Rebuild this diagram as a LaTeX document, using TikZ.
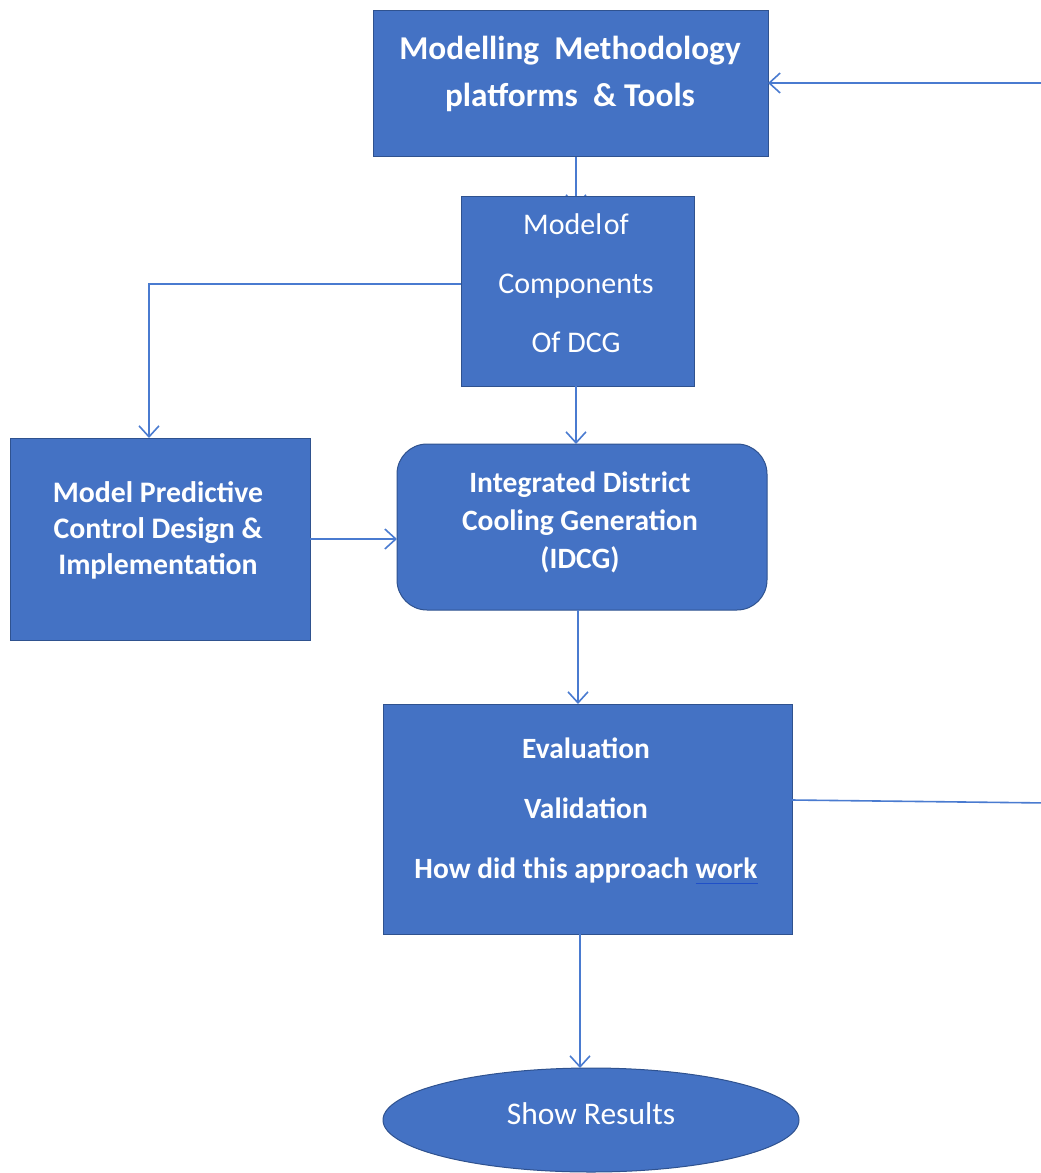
\documentclass[tikz,border=0pt]{standalone}
\usepackage{fontspec}
\setmainfont{Carlito}
\usetikzlibrary{arrows.meta,shapes.geometric,backgrounds}
\definecolor{boxfill}{HTML}{4472C4}
\definecolor{boxedge}{HTML}{2F528F}
\definecolor{linkblue}{HTML}{4A7BD0}
\definecolor{spellblue}{HTML}{1F4FC8}
\begin{document}
\begin{tikzpicture}[x=1pt,y=-1pt,
  box/.style={draw=boxedge,line width=1pt,fill=boxfill,inner sep=0pt,outer sep=0pt},
  txt/.style={text=white,align=center,inner sep=0pt},
  link/.style={draw=linkblue,line width=1.6pt,-{Straight Barb[length=11pt,width=20pt,line width=1.6pt]}}]
\useasboundingbox (0,0) rectangle (1041,1173);

% boxes
\node[box,minimum width=395pt,minimum height=146pt] (tools) at (570.5,83) {};
\node[box,minimum width=233pt,minimum height=190pt] (comp) at (577.5,291) {};
\node[box,minimum width=300pt,minimum height=202pt] (mpc) at (160,539) {};
\node[box,rounded corners=30pt,minimum width=370pt,minimum height=166pt] (idcg) at (582,527) {};
\node[box,minimum width=409pt,minimum height=230pt] (eval) at (587.5,819) {};
\node[box,ellipse,minimum width=416pt,minimum height=104pt] (res) at (591,1120) {};

% labels
\node[txt,font=\fontsize{33.3}{47}\selectfont\bfseries] (toolst) at (570,74)
  {Modelling\ \ Methodology\\platforms\ \ \&\ Tools};
\node[txt,font=\fontsize{30}{59}\selectfont] (compt) at (576,283)
  {Model\kern-5pt\ of\\Components\\Of DCG};
\node[txt,font=\fontsize{29.8}{36}\selectfont\bfseries] (mpct) at (158,530)
  {Model Predictive\\Control Design \&\\Implementation};
\node[txt,font=\fontsize{29.5}{38}\selectfont\bfseries] (idcgt) at (580,522)
  {Integrated District\\Cooling Generation\\(IDCG)};
\node[txt,font=\fontsize{29.4}{60}\selectfont\bfseries] (evalt) at (586,811)
  {Evaluation\\Validation\\How did this approach
   \setbox0\hbox{work}\rlap{\textcolor{spellblue}{\rule[-6pt]{\wd0}{1.5pt}}}\box0};
\node[txt,font=\fontsize{31.5}{36}\selectfont] (rest) at (591,1114) {Show Results};

% connectors
\begin{scope}[on background layer]
  \draw[link] (tools.south -| 576,0) -- ([yshift=-11pt]comp.north -| 576,0);
\end{scope}
\draw[link] ([yshift=7pt]comp.west) -| (mpc.north -| 149,0);
\draw[link] (comp.south -| 576,0) -- (idcg.north -| 576,0);
\draw[link] (mpc.east) -- (mpc.east -| idcg.west);
\draw[link] (idcg.south -| 578,0) -- (eval.north -| 578,0);
\draw[link] (eval.south -| 580,0) -- (res.north -| 580,0);
\coordinate (loopturn) at (1048,803);
\draw[link] ([yshift=19pt]eval.east) -- (loopturn) -- (loopturn |- tools.east) -- (tools.east);
\end{tikzpicture}
\end{document}
